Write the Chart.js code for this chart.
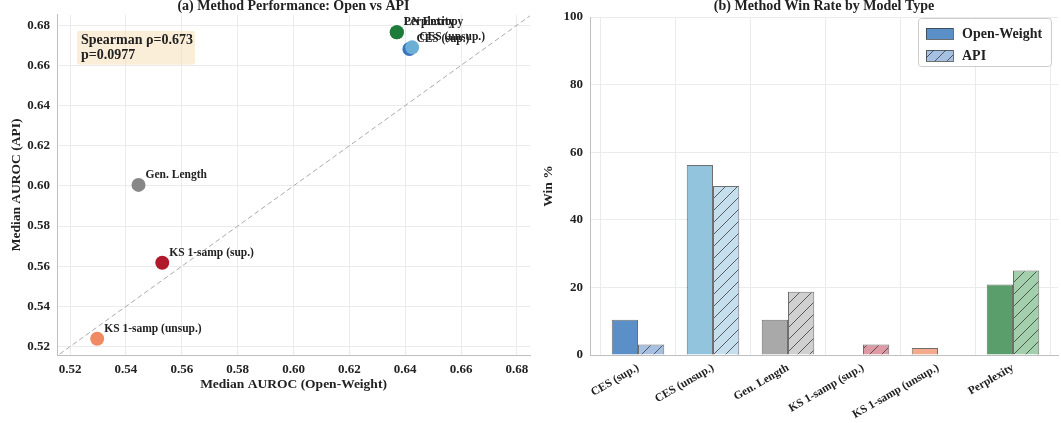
<!DOCTYPE html>
<html>
<head>
<meta charset="utf-8">
<script src="https://cdn.jsdelivr.net/npm/chart.js@4.4.1/dist/chart.umd.min.js"></script>
<style>
  body { margin: 0; background: #fff; }
  #wrap { position: relative; width: 1061px; height: 423px; }
  .panel { position: absolute; top: 0; height: 423px; }
</style>
</head>
<body>
<div id="wrap">
  <div class="panel" style="left:0;width:540px"><canvas id="scatter-chart"></canvas></div>
  <div class="panel" style="left:540px;width:521px"><canvas id="bar-chart"></canvas></div>
</div>
<script>
// Panel (a): median AUROC, open-weight vs API
var scatterMethods = ["CES (sup.)", "CES (unsup.)", "Gen. Length", "KS 1-samp (sup.)", "KS 1-samp (unsup.)", "LN Entropy", "Perplexity"];
var openAuroc = [0.6415, 0.6425, 0.5445, 0.553, 0.5297, 0.637, 0.637];
var apiAuroc = [0.6682, 0.6690, 0.6005, 0.5617, 0.5239, 0.6765, 0.6765];
var dotColors = ["#3b75bd", "#6baed6", "#878787", "#b2182b", "#ef8a62", "#2f8a4a", "#1e7b3a"];
var aurocTicks = [0.52, 0.54, 0.56, 0.58, 0.60, 0.62, 0.64, 0.66, 0.68];
var diagonal = [0.50, 0.70];
var spearmanText = ["Spearman \u03c1=0.673", "p=0.0977"];

// Panel (b): win rate by model type
var barCategories = ["CES (sup.)", "CES (unsup.)", "Gen. Length", "KS 1-samp (sup.)", "KS 1-samp (unsup.)", "Perplexity"];
var openWin = [10.42, 56.25, 10.42, 0, 2.08, 20.83];
var apiWin = [3.13, 50.0, 18.75, 3.13, 0, 25.0];
var openColors = ["#5b8fc7", "#93c4de", "#a9a9a9", "#c8505f", "#f4aa8c", "#5a9f6b"];
var apiColors = ["#a6c0e2", "#c5dfee", "#d0d0d0", "#dd9aa5", "#f8cab5", "#a3cfac"];
var winTicks = [0, 20, 40, 60, 80, 100];

var FONT = "'Liberation Serif', 'DejaVu Serif', serif";
var GRID = "#ebebeb";
var SPINE = "#bfbfbf";
var INK = "#222222";

function hatch(color) {
  var c = document.createElement("canvas");
  c.width = 12; c.height = 12;
  var x = c.getContext("2d");
  x.fillStyle = color;
  x.fillRect(0, 0, 12, 12);
  x.strokeStyle = "rgba(50,50,50,0.75)";
  x.lineWidth = 1;
  x.beginPath();
  x.moveTo(0, 12); x.lineTo(12, 0);
  x.moveTo(-6, 6); x.lineTo(6, -6);
  x.moveTo(6, 18); x.lineTo(18, 6);
  x.stroke();
  return x.createPattern(c, "repeat");
}

function panelTitle(text) {
  return {
    id: "panelTitle",
    afterDraw: function (chart) {
      var ctx = chart.ctx, a = chart.chartArea;
      ctx.save();
      ctx.font = "bold 14px " + FONT;
      ctx.fillStyle = INK;
      ctx.textAlign = "center";
      ctx.textBaseline = "alphabetic";
      ctx.fillText(text, (a.left + a.right) / 2, 10);
      ctx.restore();
    }
  };
}

var pointLabels = {
  id: "pointLabels",
  afterDatasetsDraw: function (chart) {
    var ctx = chart.ctx, xs = chart.scales.x, ys = chart.scales.y;
    ctx.save();
    ctx.font = "bold 11.5px " + FONT;
    ctx.fillStyle = INK;
    ctx.textBaseline = "middle";
    scatterMethods.forEach(function (m, i) {
      ctx.fillText(m, xs.getPixelForValue(openAuroc[i]) + 7, ys.getPixelForValue(apiAuroc[i]) - 10);
    });
    // spearman box
    var a = chart.chartArea;
    var bx = a.left + 20, by = a.top + 16;
    ctx.fillStyle = "rgba(245,222,179,0.5)";
    ctx.beginPath();
    ctx.roundRect(bx, by, 118, 34, 3);
    ctx.fill();
    ctx.fillStyle = INK;
    ctx.font = "bold 14px " + FONT;
    ctx.fillText(spearmanText[0], bx + 4, by + 10);
    ctx.fillText(spearmanText[1], bx + 4, by + 25);
    ctx.restore();
  }
};

var ctxScatter = document.getElementById("scatter-chart");
new Chart(ctxScatter.getContext("2d"), {
  type: "scatter",
  data: {
    datasets: [{
      type: "line",
      data: diagonal.map(function (v) { return { x: v, y: v }; }),
      borderColor: "#aaaaaa",
      borderWidth: 1,
      borderDash: [5, 3],
      pointRadius: 0,
      fill: false
    }, {
      data: scatterMethods.map(function (m, i) { return { x: openAuroc[i], y: apiAuroc[i] }; }),
      pointRadius: 7,
      pointHoverRadius: 7,
      pointBackgroundColor: dotColors,
      pointBorderWidth: 0
    }]
  },
  options: {
    responsive: true,
    maintainAspectRatio: false,
    animation: false,
    layout: { padding: { top: 14, right: 10, left: 0, bottom: 0 } },
    plugins: { legend: { display: false }, tooltip: { enabled: false } },
    scales: {
      x: {
        type: "linear", min: 0.5153, max: 0.6847,
        afterBuildTicks: function (s) { s.ticks = aurocTicks.map(function (v) { return { value: v }; }); },
        afterFit: function (s) { s.height = 68; },
        grid: { color: GRID, drawTicks: false },
        border: { color: SPINE },
        ticks: { color: INK, padding: 7, font: { family: FONT, size: 13, weight: "bold" }, callback: function (v) { return v.toFixed(2); } },
        title: { display: true, text: "Median AUROC (Open-Weight)", color: INK, font: { family: FONT, size: 13.5, weight: "bold" }, padding: { top: 0, bottom: 30 } }
      },
      y: {
        type: "linear", min: 0.5158, max: 0.6852,
        afterBuildTicks: function (s) { s.ticks = aurocTicks.map(function (v) { return { value: v }; }); },
        afterFit: function (s) { s.width = 57; },
        grid: { color: GRID, drawTicks: false },
        border: { color: SPINE },
        ticks: { color: INK, padding: 7, font: { family: FONT, size: 13, weight: "bold" }, callback: function (v) { return v.toFixed(2); } },
        title: { display: true, text: "Median AUROC (API)", color: INK, font: { family: FONT, size: 13.5, weight: "bold" }, padding: { top: 8, bottom: 0 } }
      }
    }
  },
  plugins: [pointLabels, panelTitle("(a) Method Performance: Open vs API")]
});

var legendBox = {
  id: "legendBox",
  afterDraw: function (chart) {
    var ctx = chart.ctx, a = chart.chartArea;
    var w = 133, h = 48, bx = a.right - w - 7, by = a.top + 1;
    ctx.save();
    ctx.fillStyle = "rgba(255,255,255,0.85)";
    ctx.strokeStyle = "#cccccc";
    ctx.lineWidth = 1;
    ctx.beginPath();
    ctx.roundRect(bx + 0.5, by + 0.5, w, h, 3);
    ctx.fill(); ctx.stroke();
    var items = [["Open-Weight", openColors[0]], ["API", hatch(apiColors[0])]];
    ctx.font = "bold 14px " + FONT;
    ctx.textBaseline = "middle";
    items.forEach(function (it, i) {
      var sy = by + 10 + i * 22;
      ctx.fillStyle = it[1];
      ctx.fillRect(bx + 8, sy, 27, 11);
      ctx.strokeStyle = "rgba(50,50,50,0.7)";
      ctx.strokeRect(bx + 8.5, sy + 0.5, 27, 11);
      ctx.fillStyle = INK;
      ctx.fillText(it[0], bx + 44, sy + 6);
    });
    ctx.restore();
  }
};

var ctxBar = document.getElementById("bar-chart");
new Chart(ctxBar.getContext("2d"), {
  type: "bar",
  data: {
    datasets: [{
      label: "Open-Weight",
      data: barCategories.map(function (c, i) { return { x: i, y: openWin[i] }; }),
      backgroundColor: openColors,
      borderColor: "rgba(50,50,50,0.7)",
      borderWidth: 1,
      categoryPercentage: 0.7,
      barPercentage: 1.0
    }, {
      label: "API",
      data: barCategories.map(function (c, i) { return { x: i, y: apiWin[i] }; }),
      backgroundColor: apiColors.map(hatch),
      borderColor: "rgba(50,50,50,0.7)",
      borderWidth: 1,
      categoryPercentage: 0.7,
      barPercentage: 1.0
    }]
  },
  options: {
    responsive: true,
    maintainAspectRatio: false,
    animation: false,
    layout: { padding: { top: 17, right: 3, left: 0, bottom: 0 } },
    plugins: { legend: { display: false }, tooltip: { enabled: false } },
    scales: {
      x: {
        type: "linear", min: -0.64, max: 5.6, offset: false,
        afterBuildTicks: function (s) { s.ticks = barCategories.map(function (c, i) { return { value: i }; }); },
        afterFit: function (s) { s.height = 68; },
        grid: { color: GRID, drawTicks: false },
        border: { color: SPINE },
        ticks: {
          color: INK, padding: 6, autoSkip: false, maxRotation: 30, minRotation: 30,
          font: { family: FONT, size: 11.5, weight: "bold" },
          callback: function (v) { return barCategories[v]; }
        }
      },
      y: {
        min: 0, max: 100,
        afterBuildTicks: function (s) { s.ticks = winTicks.map(function (v) { return { value: v }; }); },
        afterFit: function (s) { s.width = 50; },
        grid: { color: GRID, drawTicks: false },
        border: { color: SPINE },
        ticks: { color: INK, padding: 7, font: { family: FONT, size: 13, weight: "bold" } },
        title: { display: true, text: "Win %", color: INK, font: { family: FONT, size: 13.5, weight: "bold" }, padding: { top: 0, bottom: 0 } }
      }
    }
  },
  plugins: [legendBox, panelTitle("(b) Method Win Rate by Model Type")]
});
</script>
</body>
</html>
